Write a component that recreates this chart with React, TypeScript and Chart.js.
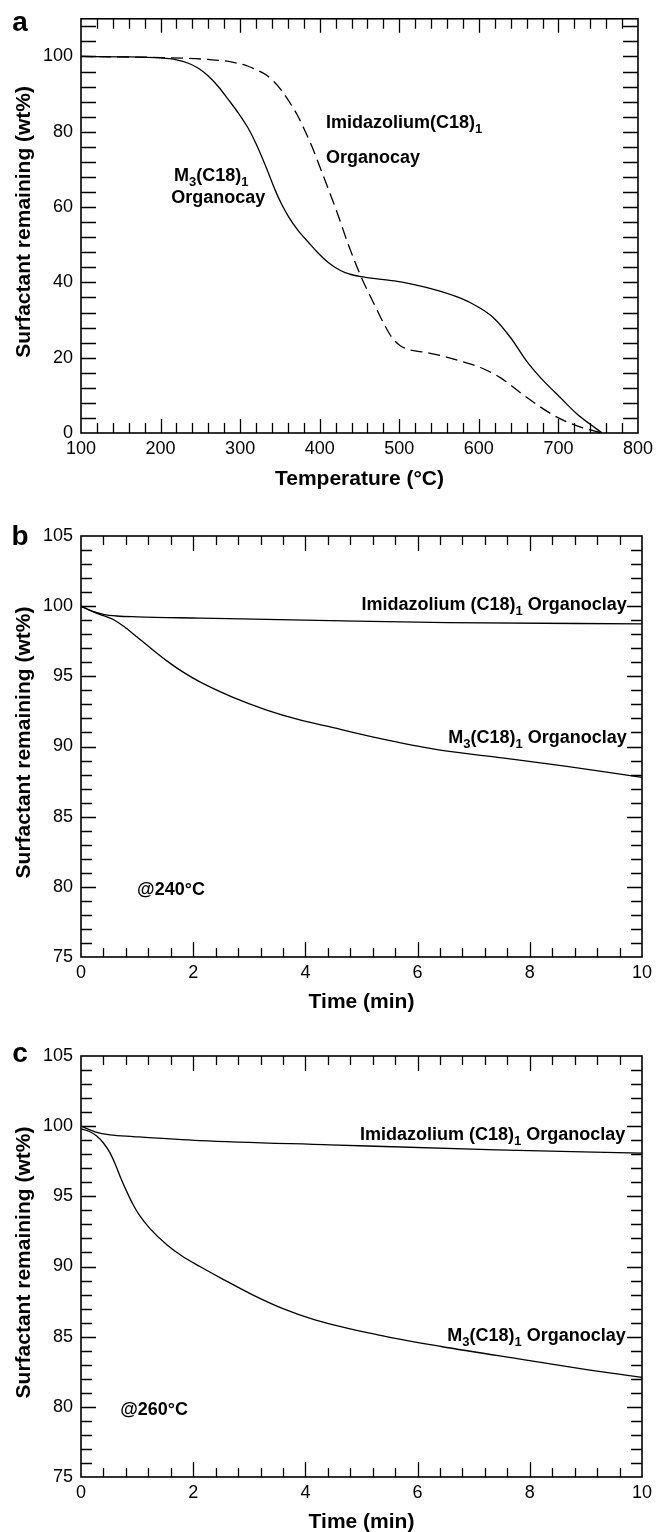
import React, { useEffect, useRef } from "react";
import { Chart, registerables } from "chart.js";

Chart.register(...registerables);

const FONT = "'Liberation Sans', Arial, Helvetica, sans-serif";

// ---------- Panel a: TGA, temperature ramp ----------
const A_TEMP_M3 = [100, 150, 200, 220, 235, 248, 260, 273, 285, 298, 310, 320, 332, 344, 352, 361, 372, 386, 398, 410, 420, 432, 452, 494, 535, 577, 598, 619, 640, 660, 681, 702, 723, 740, 755];
const A_VAL_M3 = [100, 99.9, 99.6, 99.1, 98.2, 96.8, 94.8, 91.9, 88.6, 84.9, 81.0, 76.8, 70.9, 64.5, 60.8, 57.4, 54.0, 50.6, 47.8, 45.4, 43.9, 42.6, 41.5, 40.4, 38.6, 35.8, 33.6, 30.5, 25.3, 19.1, 13.9, 9.5, 5.1, 2.3, 0];
const A_TEMP_IM = [100, 200, 260, 290, 310, 320, 332, 342, 352, 362, 373, 382, 390, 400, 411, 422, 436, 452, 469, 480, 490, 500, 510, 520, 536, 557, 577, 602, 627, 660, 694, 727, 755];
const A_VAL_IM = [100, 99.7, 99.2, 98.5, 97.4, 96.5, 95.2, 93.4, 91.0, 87.9, 84.0, 80.0, 76.2, 70.8, 64.7, 58.5, 50.0, 41.5, 34.0, 29.3, 25.6, 23.4, 22.3, 21.8, 21.3, 20.3, 19.1, 17.4, 14.7, 9.5, 4.7, 1.6, 0];
const A_X_TICKS = [100, 200, 300, 400, 500, 600, 700, 800];
const A_Y_TICKS = [0, 20, 40, 60, 80, 100];

// ---------- Panel b: isothermal 240 °C ----------
const B_TIME_IM = [0, 0.2, 0.4, 0.64, 1.0, 2.12, 4.44, 6.52, 10];
const B_VAL_IM = [100, 99.65, 99.42, 99.3, 99.24, 99.15, 98.97, 98.83, 98.74];
const B_TIME_M3 = [0, 0.2, 0.4, 0.6, 0.8, 1.0, 1.25, 1.53, 1.8, 2.12, 2.71, 3.31, 3.9, 4.44, 5.3, 6.35, 7.54, 8.66, 10];
const B_VAL_M3 = [100, 99.62, 99.32, 99.0, 98.45, 97.8, 96.98, 96.1, 95.35, 94.6, 93.5, 92.6, 91.9, 91.4, 90.6, 89.78, 89.17, 88.58, 87.8];

// ---------- Panel c: isothermal 260 °C ----------
const C_TIME_IM = [0, 0.25, 0.52, 0.93, 2.12, 4.44, 7.41, 10];
const C_VAL_IM = [100, 99.6, 99.38, 99.26, 98.97, 98.67, 98.31, 98.08];
const C_TIME_M3 = [0, 0.15, 0.28, 0.4, 0.52, 0.62, 0.72, 0.82, 0.93, 1.05, 1.23, 1.53, 1.8, 2.12, 2.55, 3.05, 3.6, 4.17, 5.29, 6.42, 7.91, 9.04, 10];
const C_VAL_M3 = [99.8, 99.62, 99.3, 98.8, 98.08, 97.2, 96.2, 95.3, 94.4, 93.6, 92.7, 91.55, 90.75, 90.0, 89.05, 88.0, 87.0, 86.2, 85.13, 84.3, 83.35, 82.64, 82.1];

const T_X_TICKS = [0, 2, 4, 6, 8, 10];
const T_Y_TICKS = [75, 80, 85, 90, 95, 100, 105];

const Y_TITLE = "Surfactant remaining (wt%)";

type Part = { t: string; sub?: boolean };
type Note = { parts: Part[]; x: number; y: number; align: "left" | "right" };
type Series = { xs: number[]; ys: number[]; dash: number[] };
type Panel = {
  top: number;
  height: number;
  padTop: number;
  xAxisH: number;
  letter: string;
  letterBase: number;
  xMin: number; xMax: number; yMin: number; yMax: number;
  xTicks: number[]; yTicks: number[];
  xMinorStep: number; xMajorStep: number; yMinorStep: number; yMajorStep: number;
  xMajorLen: number; xMinorLen: number; yMajorLen: number; yMinorLen: number;
  xTitle: string;
  xTitleBase: number;
  series: Series[];
  notes: Note[];
};

const PANELS: Panel[] = [
  {
    top: 0, height: 500, padTop: 14, xAxisH: 67, letter: "a", letterBase: 31,
    xMin: 100, xMax: 800, yMin: 0, yMax: 110,
    xTicks: A_X_TICKS, yTicks: A_Y_TICKS,
    xMinorStep: 20, xMajorStep: 100, yMinorStep: 4, yMajorStep: 20,
    xMajorLen: 14, xMinorLen: 10, yMajorLen: 15, yMinorLen: 15,
    xTitle: "Temperature (\u00B0C)", xTitleBase: 485,
    series: [
      { xs: A_TEMP_M3, ys: A_VAL_M3, dash: [] },
      { xs: A_TEMP_IM, ys: A_VAL_IM, dash: [12, 6] },
    ],
    notes: [
      { parts: [{ t: "M" }, { t: "3", sub: true }, { t: "(C18)" }, { t: "1", sub: true }], x: 217, y: 67, align: "left" },
      { parts: [{ t: "Organocay" }], x: 213.5, y: 61.2, align: "left" },
      { parts: [{ t: "Imidazolium(C18)" }, { t: "1", sub: true }], x: 408, y: 81, align: "left" },
      { parts: [{ t: "Organocay" }], x: 408, y: 71.7, align: "left" },
    ],
  },
  {
    top: 500, height: 520, padTop: 36, xAxisH: 63, letter: "b", letterBase: 45,
    xMin: 0, xMax: 10, yMin: 75, yMax: 105,
    xTicks: T_X_TICKS, yTicks: T_Y_TICKS,
    xMinorStep: 0.4, xMajorStep: 2, yMinorStep: 1, yMajorStep: 5,
    xMajorLen: 15, xMinorLen: 9, yMajorLen: 15, yMinorLen: 11,
    xTitle: "Time (min)", xTitleBase: 508,
    series: [
      { xs: B_TIME_IM, ys: B_VAL_IM, dash: [] },
      { xs: B_TIME_M3, ys: B_VAL_M3, dash: [] },
    ],
    notes: [
      { parts: [{ t: "Imidazolium (C18)" }, { t: "1", sub: true }, { t: " Organoclay" }], x: 9.73, y: 99.74, align: "right" },
      { parts: [{ t: "M" }, { t: "3", sub: true }, { t: "(C18)" }, { t: "1", sub: true }, { t: " Organoclay" }], x: 9.73, y: 90.28, align: "right" },
      { parts: [{ t: "@240\u00B0C" }], x: 1.0, y: 79.44, align: "left" },
    ],
  },
  {
    top: 1020, height: 512, padTop: 36, xAxisH: 55, letter: "c", letterBase: 42,
    xMin: 0, xMax: 10, yMin: 75, yMax: 105,
    xTicks: T_X_TICKS, yTicks: T_Y_TICKS,
    xMinorStep: 0.4, xMajorStep: 2, yMinorStep: 1, yMajorStep: 5,
    xMajorLen: 15, xMinorLen: 9, yMajorLen: 15, yMinorLen: 11,
    xTitle: "Time (min)", xTitleBase: 508,
    series: [
      { xs: C_TIME_IM, ys: C_VAL_IM, dash: [] },
      { xs: C_TIME_M3, ys: C_VAL_M3, dash: [] },
    ],
    notes: [
      { parts: [{ t: "Imidazolium (C18)" }, { t: "1", sub: true }, { t: " Organoclay" }], x: 9.70, y: 99.02, align: "right" },
      { parts: [{ t: "M" }, { t: "3", sub: true }, { t: "(C18)" }, { t: "1", sub: true }, { t: " Organoclay" }], x: 9.71, y: 84.66, align: "right" },
      { parts: [{ t: "@260\u00B0C" }], x: 0.7, y: 79.44, align: "left" },
    ],
  },
];

const MAIN_FONT = `bold 18px ${FONT}`;
const SUB_FONT = `bold 13px ${FONT}`;

function drawRich(ctx: CanvasRenderingContext2D, parts: Part[], x: number, base: number, align: "left" | "right") {
  let total = 0;
  const widths = parts.map((p) => {
    ctx.font = p.sub ? SUB_FONT : MAIN_FONT;
    const w = ctx.measureText(p.t).width;
    total += w;
    return w;
  });
  let cx = align === "right" ? x - total : x;
  ctx.textAlign = "left";
  ctx.textBaseline = "alphabetic";
  parts.forEach((p, i) => {
    ctx.font = p.sub ? SUB_FONT : MAIN_FONT;
    ctx.fillText(p.t, cx, p.sub ? base + 5 : base);
    cx += widths[i];
  });
}

function makePlugin(p: Panel) {
  return {
    id: "frameAndText",
    afterDraw(chart: any) {
      const ctx: CanvasRenderingContext2D = chart.ctx;
      const { left, right, top, bottom } = chart.chartArea;
      const xs = chart.scales.x;
      const ys = chart.scales.y;
      ctx.save();
      ctx.strokeStyle = "#000";
      ctx.fillStyle = "#000";
      ctx.lineWidth = 1.3;
      ctx.setLineDash([]);
      // x ticks (bottom & top, inward)
      const nx = Math.round((p.xMax - p.xMin) / p.xMinorStep);
      for (let i = 1; i < nx; i++) {
        const v = p.xMin + i * p.xMinorStep;
        const r = v / p.xMajorStep;
        const major = Math.abs(r - Math.round(r)) < 1e-6;
        const len = major ? p.xMajorLen : p.xMinorLen;
        const px = Math.round(xs.getPixelForValue(v)) + 0.5;
        ctx.beginPath();
        ctx.moveTo(px, bottom);
        ctx.lineTo(px, bottom - len);
        ctx.moveTo(px, top);
        ctx.lineTo(px, top + len);
        ctx.stroke();
      }
      // y ticks (left & right, inward)
      const ny = Math.round((p.yMax - p.yMin) / p.yMinorStep);
      for (let i = 1; i <= ny; i++) {
        const v = p.yMin + i * p.yMinorStep;
        if (v >= p.yMax - 1e-9) continue;
        const r = v / p.yMajorStep;
        const major = Math.abs(r - Math.round(r)) < 1e-6;
        const len = major ? p.yMajorLen : p.yMinorLen;
        const py = Math.round(ys.getPixelForValue(v)) + 0.5;
        ctx.beginPath();
        ctx.moveTo(left, py);
        ctx.lineTo(left + len, py);
        ctx.moveTo(right, py);
        ctx.lineTo(right - len, py);
        ctx.stroke();
      }
      // frame
      ctx.lineWidth = 1.6;
      ctx.strokeRect(left, top, right - left, bottom - top);

      // notes
      p.notes.forEach((n) => {
        drawRich(ctx, n.parts, xs.getPixelForValue(n.x), ys.getPixelForValue(n.y), n.align);
      });

      // panel letter
      ctx.font = `bold 28px ${FONT}`;
      ctx.textAlign = "center";
      ctx.textBaseline = "alphabetic";
      ctx.fillText(p.letter, 20, p.letterBase);

      // x title
      ctx.font = `bold 21px ${FONT}`;
      ctx.textAlign = "center";
      ctx.fillText(p.xTitle, (left + right) / 2, p.xTitleBase);

      // y title
      ctx.save();
      ctx.translate(30, (top + bottom) / 2 - 4);
      ctx.rotate(-Math.PI / 2);
      ctx.textAlign = "center";
      ctx.textBaseline = "alphabetic";
      ctx.fillText(Y_TITLE, 0, 0);
      ctx.restore();

      ctx.restore();
    },
  };
}

function PanelChart({ p }: { p: Panel }) {
  const ref = useRef<HTMLCanvasElement | null>(null);
  useEffect(() => {
    if (!ref.current) return;
    const chart = new Chart(ref.current, {
      type: "line",
      data: {
        datasets: p.series.map((s) => ({
          data: s.xs.map((x, i) => ({ x, y: s.ys[i] })),
          borderColor: "#000",
          borderWidth: 1.3,
          borderDash: s.dash,
          pointRadius: 0,
          fill: false,
          tension: 0.4,
          cubicInterpolationMode: "monotone" as const,
        })),
      },
      options: {
        animation: false,
        responsive: false,
        devicePixelRatio: 1,
        events: [],
        layout: { padding: { left: 0, top: p.padTop, right: 16, bottom: 0 } },
        plugins: { legend: { display: false }, tooltip: { enabled: false } },
        scales: {
          x: {
            type: "linear",
            min: p.xMin,
            max: p.xMax,
            afterBuildTicks: (s: any) => {
              s.ticks = p.xTicks.map((v) => ({ value: v }));
            },
            afterFit: (s: any) => {
              s.height = p.xAxisH;
            },
            ticks: {
              color: "#000",
              font: { family: FONT, size: 18 },
              padding: 5,
              maxRotation: 0,
              autoSkip: false,
              callback: (v: any) => String(v),
            },
            grid: { display: false, drawTicks: false },
            border: { display: false },
          },
          y: {
            type: "linear",
            min: p.yMin,
            max: p.yMax,
            afterBuildTicks: (s: any) => {
              s.ticks = p.yTicks.map((v) => ({ value: v }));
            },
            afterFit: (s: any) => {
              s.width = 81;
            },
            ticks: {
              color: "#000",
              font: { family: FONT, size: 18 },
              padding: 8,
              autoSkip: false,
              callback: (v: any) => String(v),
            },
            grid: { display: false, drawTicks: false },
            border: { display: false },
          },
        },
      },
      plugins: [makePlugin(p)],
    } as any);
    return () => chart.destroy();
  }, [p]);
  return (
    <canvas
      ref={ref}
      width={658}
      height={p.height}
      style={{ position: "absolute", left: 0, top: p.top, width: 658, height: p.height, display: "block" }}
    />
  );
}

export default function App() {
  return (
    <div style={{ position: "absolute", left: 0, top: 0, width: 658, height: 1532, background: "#fff", overflow: "hidden" }}>
      {PANELS.map((p) => (
        <PanelChart key={p.letter} p={p} />
      ))}
    </div>
  );
}
